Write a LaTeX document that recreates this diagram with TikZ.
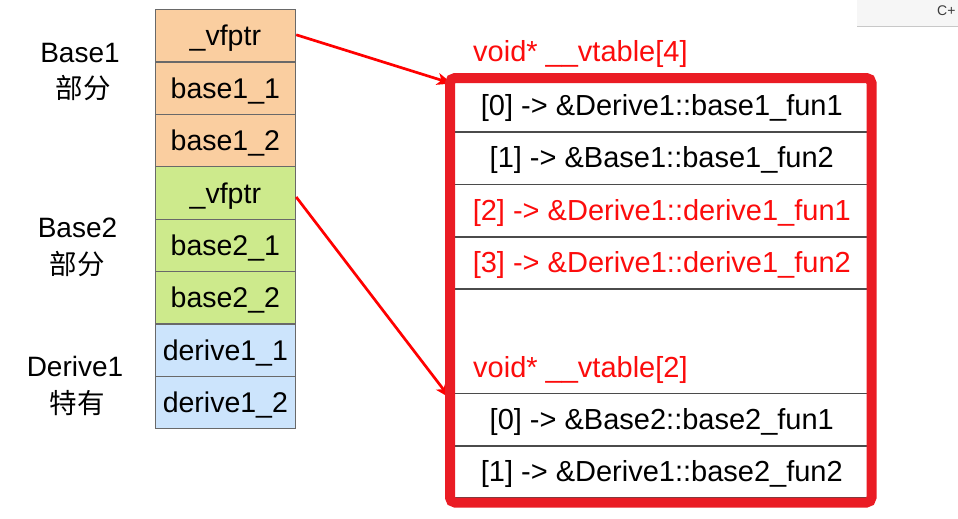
\documentclass[tikz,border=0pt]{standalone}
\usepackage{fontspec}
\setmainfont{Liberation Sans}
\newfontfamily\cjk{Noto Sans CJK SC}
\usetikzlibrary{arrows.meta}
\definecolor{orangefill}{RGB}{250,206,160}
\definecolor{greenfill}{RGB}{205,234,140}
\definecolor{bluefill}{RGB}{204,228,252}
\definecolor{cellborder}{RGB}{105,105,105}
\definecolor{rowgray}{RGB}{75,75,75}
\definecolor{redline}{RGB}{234,28,36}
\definecolor{arrowred}{RGB}{255,0,0}
\definecolor{redtext}{RGB}{252,12,12}
\definecolor{uigray}{RGB}{246,246,246}
\definecolor{uishadow}{RGB}{200,200,200}
\definecolor{uitext}{RGB}{60,60,60}
\begin{document}
\begin{tikzpicture}[x=1pt,y=-1pt,
  cell/.style={draw=cellborder, line width=1.2pt, minimum width=140.5pt, minimum height=52.4pt, inner sep=0pt, anchor=north west, text height=20pt, text depth=0pt, font=\fontsize{28.5}{30}\selectfont},
  vrow/.style={draw=rowgray, line width=1.6pt, fill=white, minimum width=418pt, minimum height=52.3pt, inner sep=0pt, anchor=north west, text height=19pt, text depth=0pt, font=\fontsize{29}{31}\selectfont},
  lbl/.style={font=\fontsize{28}{30}\selectfont, anchor=base, inner sep=0pt},
  cjklbl/.style={font=\cjk\fontsize{27.5}{30}\selectfont, anchor=center, inner sep=0pt},
  vtl/.style={text=redtext, font=\fontsize{29}{31}\selectfont, anchor=base west, inner sep=0pt},
  ptr/.style={draw=arrowred, line width=2.7pt, -{Stealth[length=15pt,width=12pt,inset=4pt]}}
]
\useasboundingbox (0,0) rectangle (958,519);
\fill[white] (0,0) rectangle (958,519);

% UI remnant top right
\node[fill=uigray, draw=none, minimum width=110pt, minimum height=27pt, inner sep=0pt, anchor=north west] (ui) at (857,-1) {};
\draw[uishadow, line width=1.5pt] (ui.south west) -- (ui.south east);
\node[font=\fontsize{14}{16}\selectfont, text=uitext, anchor=base west, inner sep=0pt] (uit) at (937,16) {C+};

% left memory layout
\node[cell, fill=orangefill] (v1)  at (154.5,9)     {\_vfptr};
\node[cell, fill=orangefill] (b11) at (154.5,61.4)  {base1\_1};
\node[cell, fill=orangefill] (b12) at (154.5,113.8) {base1\_2};
\node[cell, fill=greenfill]  (v2)  at (154.5,166.2) {\_vfptr};
\node[cell, fill=greenfill]  (b21) at (154.5,218.6) {base2\_1};
\node[cell, fill=greenfill]  (b22) at (154.5,271)   {base2\_2};
\node[cell, fill=bluefill]   (d11) at (154.5,323.4) {derive1\_1};
\node[cell, fill=bluefill]   (d12) at (154.5,375.8) {derive1\_2};

% labels left
\node[lbl] (base1) at (80,63) {Base1};
\node[cjklbl] (bp1) at (83,88) {部分};
\node[lbl] (base2) at (77.5,237) {Base2};
\node[cjklbl] (bp2) at (77,264) {部分};
\node[lbl] (der1) at (75,376) {Derive1};
\node[cjklbl] (dt) at (77,403) {特有};

% vtable rows
\node[vrow] (r0) at (452,79)    {[0] -> \&Derive1::base1\_fun1};
\node[vrow] (r1) at (452,131.3) {[1] -> \&Base1::base1\_fun2};
\node[vrow, text=redtext] (r2) at (452,183.6) {[2] -> \&Derive1::derive1\_fun1};
\node[vrow, text=redtext] (r3) at (452,235.9) {[3] -> \&Derive1::derive1\_fun2};
\node[vrow] (s0) at (452,392.6) {[0] -> \&Base2::base2\_fun1};
\node[vrow] (s1) at (452,444.9) {[1] -> \&Derive1::base2\_fun2};

% arrows (tips run under the frame)
\coordinate (t1) at (452,83.5);
\coordinate (t2) at (450,398);
\draw[ptr] ([yshift=1pt]v1.east) -- (t1);
\draw[ptr] ([yshift=-4pt]v2.east) -- (t2);

% red frame
\node[draw=redline, line width=10pt, rounded corners=5pt, minimum width=421.5pt, minimum height=424.5pt, inner sep=0pt, outer sep=0pt, anchor=north west] (frame) at (450,78) {};

% vtable titles
\node[vtl] (vt4) at (473,62) {void* \_\_vtable[4]};
\node[vtl] (vt2) at (473,377) {void* \_\_vtable[2]};
\end{tikzpicture}
\end{document}
